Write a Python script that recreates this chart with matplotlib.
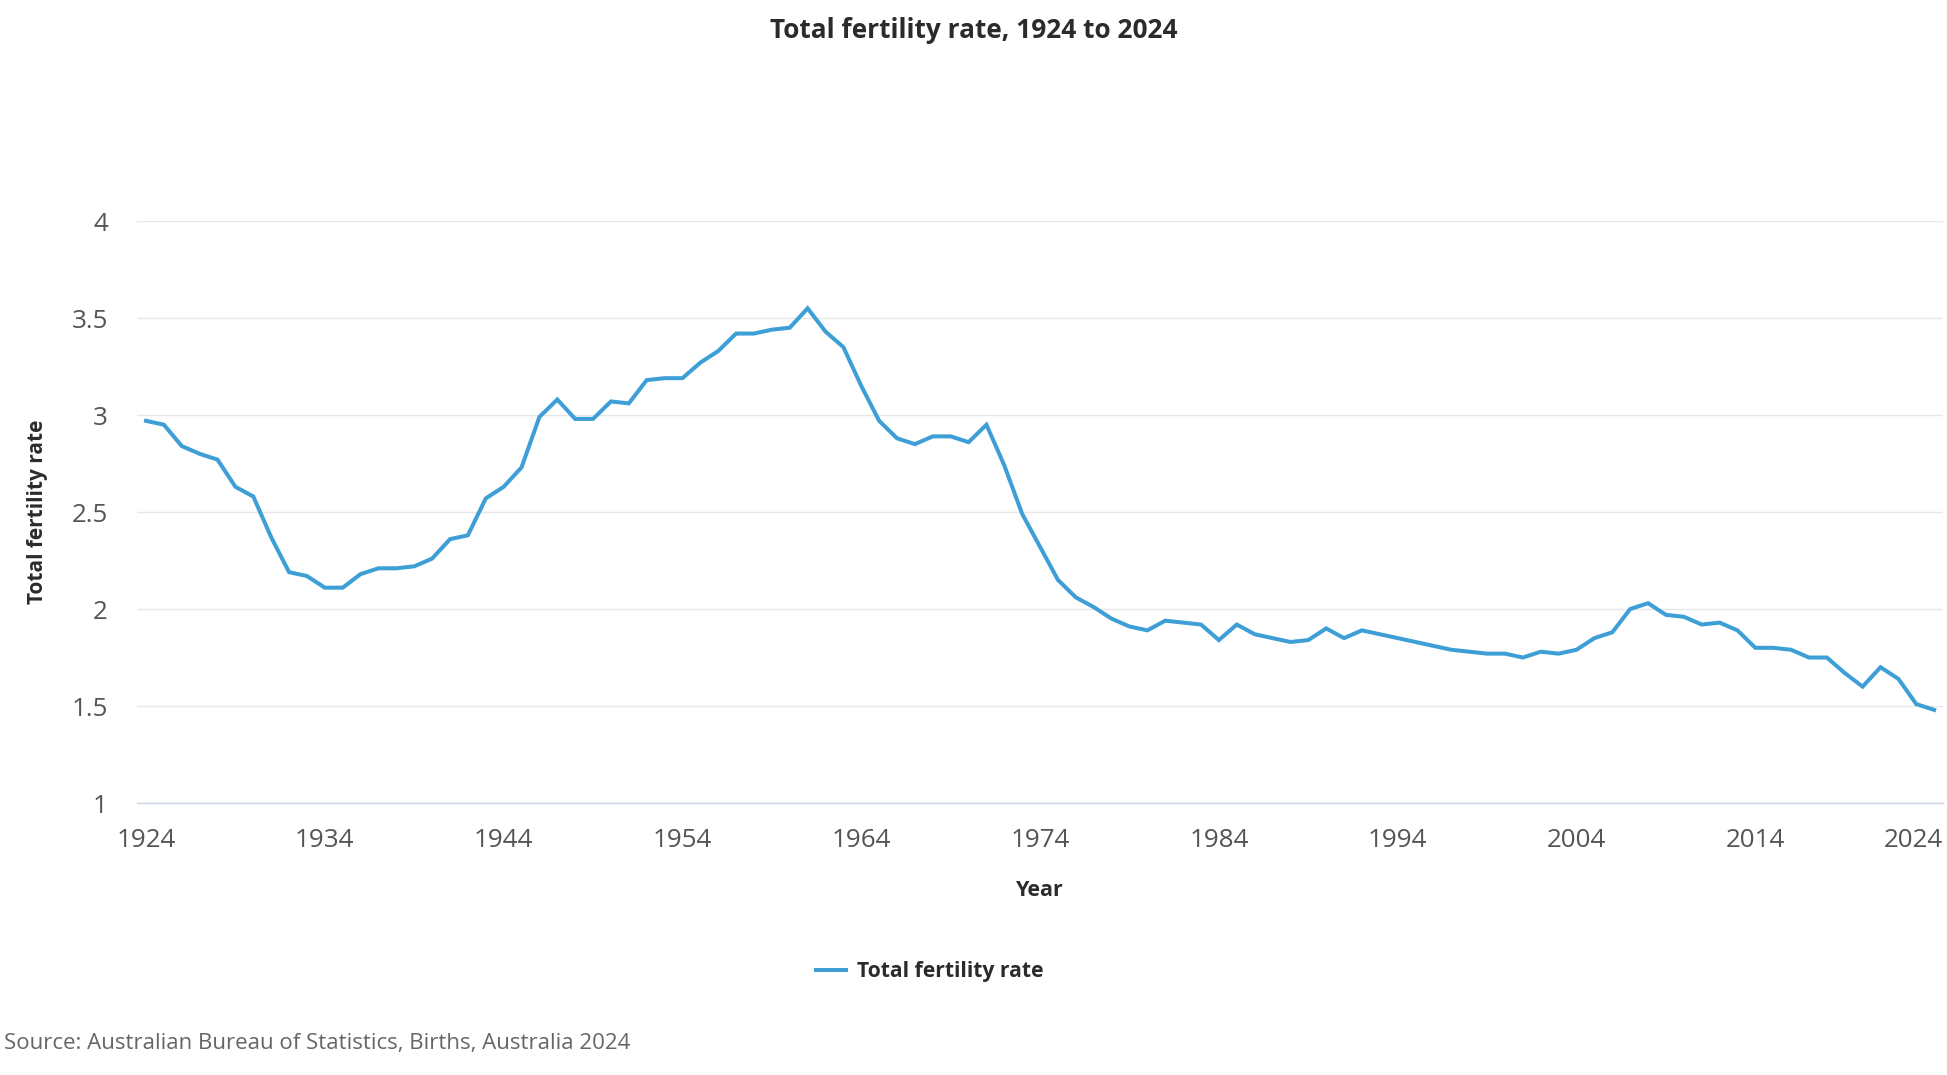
import numpy as np
import matplotlib
matplotlib.use('Agg')
import matplotlib.pyplot as plt
import matplotlib.transforms as mtransforms

plt.rcParams['font.family'] = ['Open Sans', 'DejaVu Sans']

years = list(range(1924, 2025))
tfr = [2.97, 2.95, 2.84, 2.80, 2.77, 2.63, 2.58, 2.37, 2.19, 2.17,
       2.11, 2.11, 2.18, 2.21, 2.21, 2.22, 2.26, 2.36, 2.38, 2.57,
       2.63, 2.73, 2.99, 3.08, 2.98, 2.98, 3.07, 3.06, 3.18, 3.19,
       3.19, 3.27, 3.33, 3.42, 3.42, 3.44, 3.45, 3.55, 3.43, 3.35,
       3.15, 2.97, 2.88, 2.85, 2.89, 2.89, 2.86, 2.95, 2.74, 2.49,
       2.32, 2.15, 2.06, 2.01, 1.95, 1.91, 1.89, 1.94, 1.93, 1.92,
       1.84, 1.92, 1.87, 1.85, 1.83, 1.84, 1.90, 1.85, 1.89, 1.87,
       1.85, 1.83, 1.81, 1.79, 1.78, 1.77, 1.77, 1.75, 1.78, 1.77,
       1.79, 1.85, 1.88, 2.00, 2.03, 1.97, 1.96, 1.92, 1.93, 1.89,
       1.80, 1.80, 1.79, 1.75, 1.75, 1.67, 1.60, 1.70, 1.64, 1.51,
       1.48]
xticks = list(range(1924, 2025, 10))
yticks = [1, 1.5, 2, 2.5, 3, 3.5, 4]
ytick_labels = ['1', '1.5', '2', '2.5', '3', '3.5', '4']

fig = plt.figure(figsize=(19.47, 10.75), dpi=100)
ax = fig.add_axes([0.0704, 0.2530, 0.9276, 0.5414])

ax.plot(years, tfr, color='#3d9fd6', lw=2.9, label='Total fertility rate',
        solid_joinstyle='miter')

ax.set_xlim(1923.5, 2024.5)
ax.set_ylim(1, 4)
ax.set_xticks(xticks)
ax.set_yticks(yticks)
ax.set_yticklabels(ytick_labels)

ax.grid(axis='y', color='#e6e6e6', lw=1.0)
ax.set_axisbelow(True)
for s in ['top', 'right', 'left']:
    ax.spines[s].set_visible(False)
ax.spines['bottom'].set_color('#ccd6eb')
ax.spines['bottom'].set_linewidth(1.0)

ax.tick_params(axis='both', length=0, labelsize=18.7, labelcolor='#555555')
ax.tick_params(axis='x', pad=18)
ax.tick_params(axis='y', pad=21)

# last year label pushed inside the figure edge
last = ax.get_xticklabels()[-1]
last.set_ha('right')
last.set_transform(last.get_transform() + mtransforms.ScaledTranslation(0.09, 0, fig.dpi_scale_trans))

ax.set_xlabel('Year', fontsize=15.5, fontweight='bold', color='#2b2b2b')
ax.xaxis.label.set_va('center')
ax.xaxis.set_label_coords(0.5, -0.150)
ax.set_ylabel('Total fertility rate', fontsize=15, fontweight='bold', color='#2b2b2b')
ax.yaxis.label.set_va('center')
ax.yaxis.set_label_coords(-0.0554, 0.5)

fig.text(0.5, 0.972, 'Total fertility rate, 1924 to 2024', ha='center', va='center',
         fontsize=18.9, fontweight='bold', color='#2b2b2b')

leg = ax.legend(loc='center', bbox_to_anchor=(0.4774, 0.0960), bbox_transform=fig.transFigure,
                frameon=False, fontsize=15.2, handlelength=1.45, handletextpad=0.5)
for t in leg.get_texts():
    t.set_fontweight('bold')
    t.set_color('#2b2b2b')

fig.text(0.002, 0.029, 'Source: Australian Bureau of Statistics, Births, Australia 2024',
         ha='left', va='center', fontsize=16, color='#666666')

fig.savefig('out.png', dpi=100)
